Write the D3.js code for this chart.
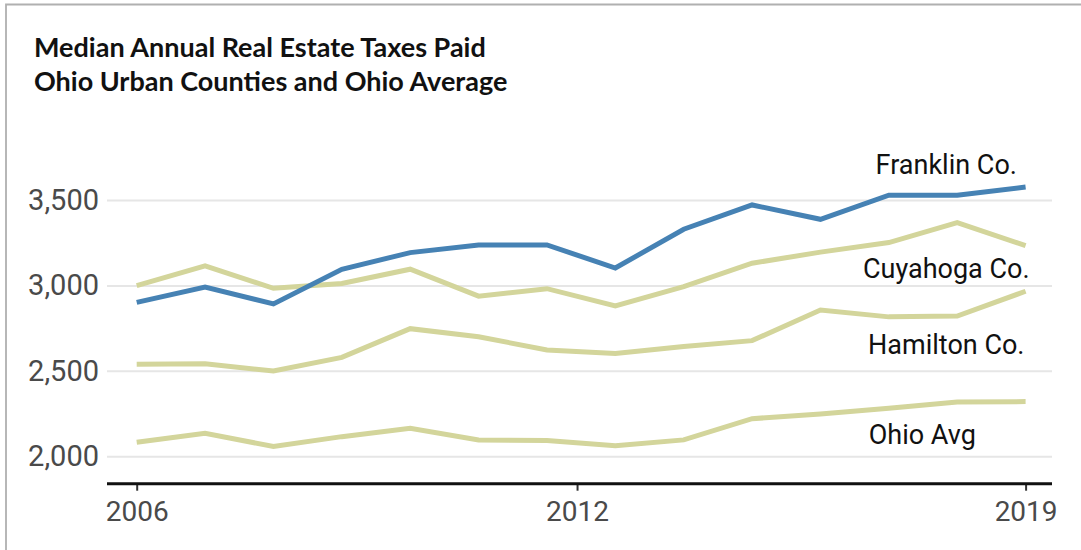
<!DOCTYPE html>
<html>
<head>
<meta charset="utf-8">
<script src="https://cdn.jsdelivr.net/npm/d3@7"></script>
<style>
  html, body { margin: 0; padding: 0; background: #fff; }
  svg { display: block; }
</style>
</head>
<body>
<svg id="chart"></svg>
<script>
const width = 1081;
const height = 550;

// data
const years = [2006, 2007, 2008, 2009, 2010, 2011, 2012, 2013, 2014, 2015, 2016, 2017, 2018, 2019];
const franklin = [2901, 2991, 2892, 3094, 3192, 3237, 3237, 3102, 3329, 3471, 3387, 3528, 3528, 3576];
const cuyahoga = [2999, 3114, 2983, 3011, 3095, 2937, 2981, 2880, 2993, 3130, 3195, 3251, 3368, 3233];
const hamilton = [2538, 2542, 2499, 2579, 2747, 2700, 2622, 2601, 2642, 2677, 2856, 2816, 2821, 2966];
const ohioAvg = [2082, 2135, 2057, 2115, 2164, 2096, 2092, 2062, 2096, 2220, 2248, 2281, 2318, 2320];

const seriesNames = ["Ohio Avg", "Hamilton Co.", "Cuyahoga Co.", "Franklin Co."];
const seriesValues = [ohioAvg, hamilton, cuyahoga, franklin];

const yTicks = [2000, 2500, 3000, 3500];
const xTicks = [2006, 2012.44, 2019];
const xTickLabels = ["2006", "2012", "2019"];

// label anchors in data units (year, value)
const labelYears = [2017.49, 2017.84, 2017.84, 2017.84];
const labelValues = [2072, 2600, 3045, 3650];

const titleLines = ["Median Annual Real Estate Taxes Paid", "Ohio Urban Counties and Ohio Average"];

const blue = "#4682b4";
const olive = "#d3d59b";

const svg = d3.select("#chart")
    .attr("width", width)
    .attr("height", height)
    .attr("viewBox", [0, 0, width, height]);

// frame
svg.append("path")
    .attr("d", "M6,550 V4.5 H1081")
    .attr("fill", "none")
    .attr("stroke", "#b0b0b0")
    .attr("stroke-width", 1.8);

// title
svg.append("g")
    .selectAll("text")
    .data(titleLines)
    .join("text")
    .attr("x", 34)
    .attr("y", (d, i) => 57 + i * 34)
    .attr("font-family", "Lato, 'Open Sans', sans-serif")
    .attr("font-weight", 700)
    .attr("font-size", 27)
    .attr("fill", "#111")
    .text(d => d);

const x = d3.scaleLinear()
    .domain([2006, 2019])
    .range([136.7, 1025.6]);

const y = d3.scaleLinear()
    .domain([2000, 3500])
    .range([456.3, 200]);

const gridLeft = 107;
const gridRight = 1052;

// y grid + labels
const yAxis = g => g
    .attr("transform", `translate(${gridLeft},0)`)
    .call(d3.axisLeft(y).tickValues(yTicks).tickFormat(d3.format(",")).tickSize(-(gridRight - gridLeft)).tickPadding(8))
    .call(g => g.select(".domain").remove())
    .call(g => g.selectAll(".tick line").attr("stroke", "#e6e6e6").attr("stroke-width", 2))
    .call(g => g.selectAll(".tick text")
        .attr("font-family", "Roboto, sans-serif")
        .attr("font-size", 29)
        .attr("fill", "#4a4a4a"));

svg.append("g").call(yAxis);

// lines
const line = d3.line()
    .x((d, i) => x(years[i]))
    .y(d => y(d));

svg.append("g")
    .selectAll("path")
    .data(seriesValues)
    .join("path")
    .attr("d", d => line(d))
    .attr("fill", "none")
    .attr("stroke", (d, i) => i === 3 ? blue : olive)
    .attr("stroke-width", 5)
    .attr("stroke-linejoin", "miter")
    .attr("stroke-linecap", "butt");

// x axis
const axisY = 483.7;
const xAxis = g => g
    .attr("transform", `translate(0,${axisY})`)
    .call(d3.axisBottom(x).tickValues(xTicks).tickFormat((d, i) => xTickLabels[i]).tickSize(7).tickPadding(10))
    .call(g => g.select(".domain").remove())
    .call(g => g.selectAll(".tick line").attr("stroke", "#333").attr("stroke-width", 2))
    .call(g => g.selectAll(".tick text")
        .attr("font-family", "Roboto, sans-serif")
        .attr("font-size", 28)
        .attr("fill", "#4a4a4a"));

svg.append("g").call(xAxis);

svg.append("line")
    .attr("x1", gridLeft)
    .attr("x2", gridRight)
    .attr("y1", axisY)
    .attr("y2", axisY)
    .attr("stroke", "#111")
    .attr("stroke-width", 3);

// series labels
svg.append("g")
    .selectAll("text")
    .data(seriesNames)
    .join("text")
    .attr("x", (d, i) => x(labelYears[i]))
    .attr("y", (d, i) => y(labelValues[i]))
    .attr("text-anchor", "middle")
    .attr("font-family", "Roboto, sans-serif")
    .attr("font-size", 27)
    .attr("fill", "#111")
    .text(d => d);
</script>
</body>
</html>
